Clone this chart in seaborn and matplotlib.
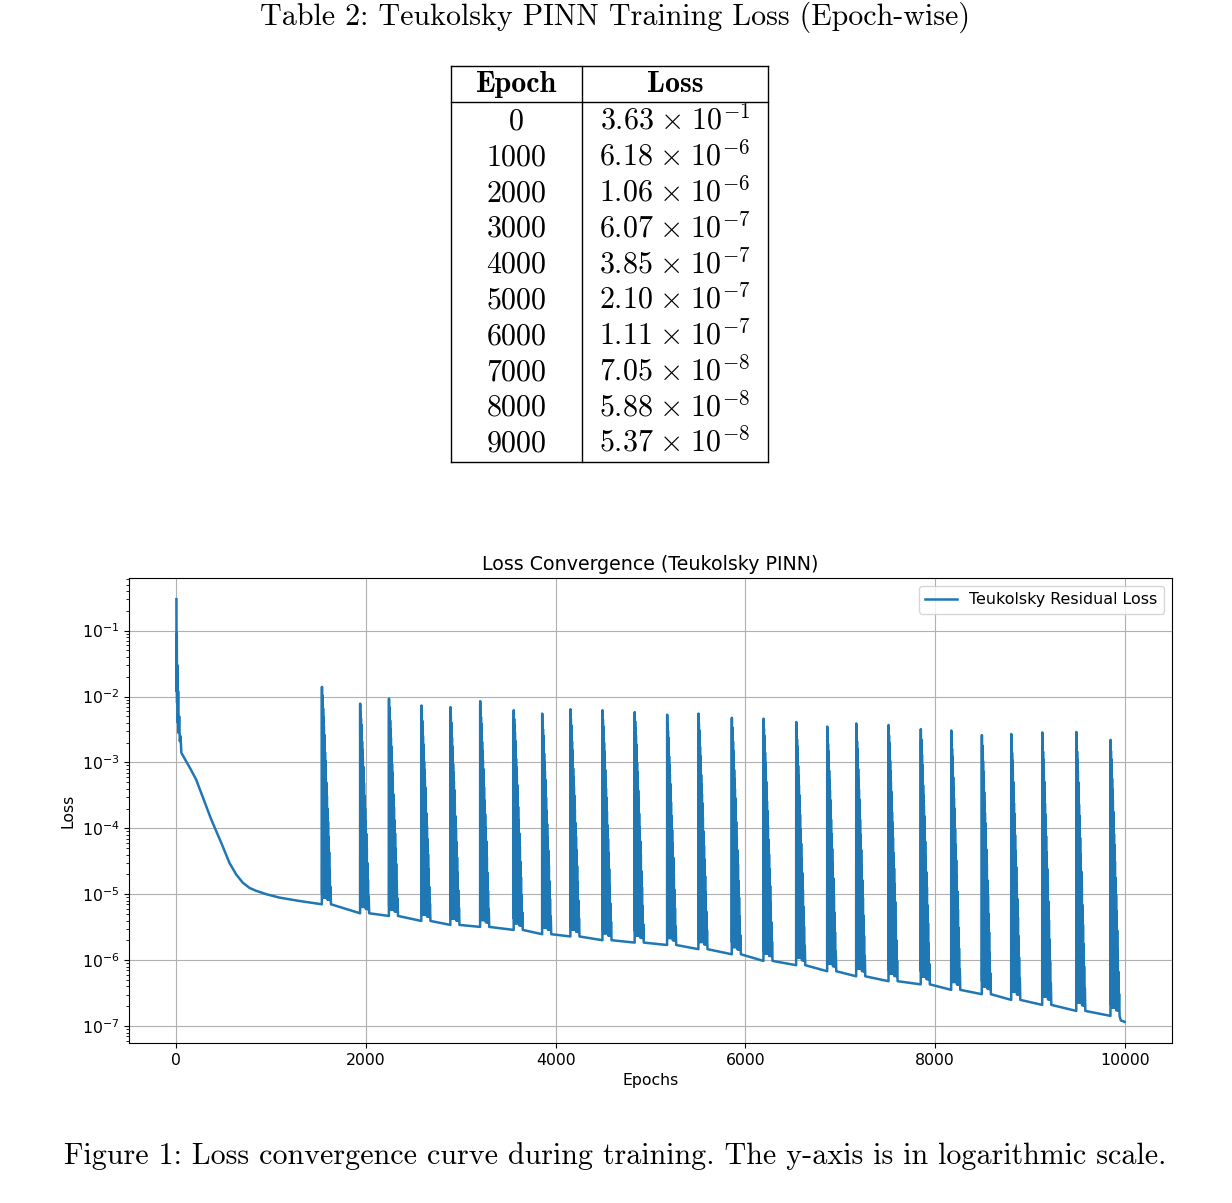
import numpy as np
import pandas as pd
import seaborn as sns
import matplotlib.pyplot as plt
from matplotlib.lines import Line2D

# keep every vertex of the ringing spikes
plt.rcParams["path.simplify"] = False

# table values
table_epochs = [0, 1000, 2000, 3000, 4000, 5000, 6000, 7000, 8000, 9000]
table_mant = ["3.63", "6.18", "1.06", "6.07", "3.85", "2.10", "1.11", "7.05", "5.88", "5.37"]
table_exp = [-1, -6, -6, -7, -7, -7, -7, -8, -8, -8]

# first part of the curve (epoch, loss)
start_epochs = [0, 2, 4, 7, 10, 14, 18, 23, 29, 36, 44, 52, 150, 208, 366, 480, 559,
                630, 700, 770, 840, 950, 1087, 1300]
start_loss = [0.30, 0.012, 0.09, 0.008, 0.03, 0.004, 0.012, 0.0028, 0.005, 0.0021, 0.0025,
              0.0014, 7.9e-4, 5.5e-4, 1.38e-4, 5.7e-5, 3.0e-5, 2.0e-5, 1.5e-5, 1.25e-5,
              1.13e-5, 1.0e-5, 8.9e-6, 7.9e-6]

# loss spikes: epoch, peak value and baseline just before the spike
spike_epochs = [1535, 1938, 2242, 2584, 2890, 3204, 3558, 3858, 4156, 4494, 4834, 5176, 5506,
                5858, 6192, 6537, 6864, 7170, 7511, 7851, 8172, 8495, 8805, 9132, 9491, 9852]
spike_peaks = [1.4e-2, 7.8e-3, 9.3e-3, 7.3e-3, 6.9e-3, 8.5e-3, 6.2e-3, 5.5e-3, 6.4e-3, 6.2e-3,
               5.8e-3, 5.3e-3, 5.5e-3, 4.75e-3, 4.6e-3, 4.1e-3, 3.5e-3, 3.9e-3, 3.7e-3, 3.2e-3,
               3.05e-3, 2.6e-3, 2.7e-3, 2.85e-3, 2.9e-3, 2.2e-3]
spike_base = [7.05e-6, 5.15e-6, 4.69e-6, 3.94e-6, 3.43e-6, 3.2e-6, 2.88e-6, 2.48e-6, 2.29e-6,
              2.01e-6, 1.85e-6, 1.70e-6, 1.47e-6, 1.23e-6, 9.75e-7, 8.4e-7, 6.8e-7, 5.7e-7,
              4.8e-7, 4.3e-7, 3.55e-7, 3.05e-7, 2.5e-7, 2.1e-7, 1.7e-7, 1.43e-7]

# ringing tail of one spike (epochs after the spike, level between base=0 and peak=1)
spike_tail_offsets = [0, 2, 4, 6, 8, 10, 12, 14, 16, 18, 20, 22, 24, 26, 28, 30, 32, 34, 36,
                      38, 40, 43, 46, 49, 52, 55, 58, 61, 64, 67, 70, 73, 76, 79, 82, 86, 90, 95]
spike_tail_levels = [1.0, 0.05, 0.96, 0.04, 0.93, 0.06, 0.9, 0.03, 0.86, 0.05, 0.82, 0.03,
                     0.78, 0.05, 0.74, 0.03, 0.7, 0.04, 0.66, 0.03, 0.62, 0.04, 0.56, 0.03,
                     0.5, 0.03, 0.44, 0.02, 0.38, 0.03, 0.31, 0.02, 0.24, 0.02, 0.16, 0.02,
                     0.08, 0.0]

end_epochs = [9960, 10000]
end_loss = [1.22e-7, 1.16e-7]

epochs = list(start_epochs)
loss = list(start_loss)
for s, p, b in zip(spike_epochs, spike_peaks, spike_base):
    epochs.append(s - 1)
    loss.append(b)
    lb, lp = np.log10(b), np.log10(p)
    for off, lev in zip(spike_tail_offsets, spike_tail_levels):
        epochs.append(s + off)
        loss.append(10 ** (lb + lev * (lp - lb)))
epochs += end_epochs
loss += end_loss

df = pd.DataFrame({"Epochs": epochs, "Loss": loss})

fig = plt.figure(figsize=(12.32, 12.03), dpi=100)
ax = fig.add_axes([129 / 1232, 1 - 1043 / 1203, (1172 - 129) / 1232, (1043 - 578) / 1203])

sns.lineplot(data=df, x="Epochs", y="Loss", ax=ax, estimator=None, sort=False,
             color="#1f77b4", linewidth=1.8, label="Teukolsky Residual Loss")
ax.set_yscale("log")
ax.set_title("Loss Convergence (Teukolsky PINN)", fontsize=13.7)
ax.set_xlabel("Epochs", fontsize=11.3)
ax.set_ylabel("Loss", fontsize=11.3)
ax.tick_params(labelsize=11.3)
ax.grid(True)
ax.legend(loc="upper right", fontsize=11.4)

# page text in a LaTeX-like serif
W, H = 1232, 1203
fs = 21.6
fig.text(614.5 / W, 1 - 17 / H, "Table 2: Teukolsky PINN Training Loss (Epoch-wise)",
         family="cmr10", fontsize=fs, ha="center", va="center")
fig.text(615 / W, 1 - 1156 / H,
         "Figure 1: Loss convergence curve during training. The y-axis is in logarithmic scale.",
         family="cmr10", fontsize=fs, ha="center", va="center")

# table
xl, xm, xr = 451, 581.5, 768
yt, yh, yb = 66, 102, 462
for x0, y0, x1, y1 in [(xl, yt, xr, yt), (xl, yh, xr, yh), (xl, yb, xr, yb),
                       (xl, yt, xl, yb), (xm, yt, xm, yb), (xr, yt, xr, yb)]:
    fig.add_artist(Line2D([x0 / W, x1 / W], [1 - y0 / H, 1 - y1 / H], color="black", lw=1.0))

c1, c2 = (xl + xm) / 2, (xm + xr) / 2
fig.text(c1 / W, 1 - 92.5 / H, "Epoch", family="cmb10", fontsize=fs, ha="center", va="baseline")
fig.text(c2 / W, 1 - 92.5 / H, "Loss", family="cmb10", fontsize=fs, ha="center", va="baseline")
for i, (e, m, p) in enumerate(zip(table_epochs, table_mant, table_exp)):
    yy = 1 - (129.5 + i * 35.8) / H
    fig.text(c1 / W, yy, str(e), family="cmr10", fontsize=fs, ha="center", va="baseline")
    fig.text(c2 / W, yy, r"$%s\hspace{0.09}\times\hspace{0.09}10^{%d}$" % (m, p),
             math_fontfamily="cm", fontsize=fs, ha="center", va="baseline")

fig.savefig("out.png", dpi=100)
